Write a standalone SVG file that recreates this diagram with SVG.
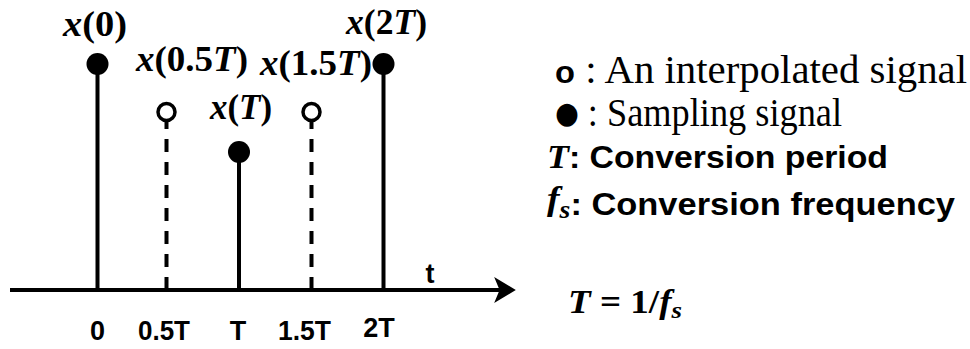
<svg xmlns="http://www.w3.org/2000/svg" width="970" height="349" viewBox="0 0 970 349">
<style>
.stem{stroke:#000;stroke-width:4;fill:none}
.dash{stroke:#000;stroke-width:4;fill:none;stroke-dasharray:13 10}
.dot{fill:#000}
.ring{fill:#fff;stroke:#000;stroke-width:3.5}
.math{font-family:"Liberation Serif",serif;font-weight:bold;font-size:35px;fill:#000}
.it{font-style:italic}
.tick{font-family:"Liberation Sans",Arial,sans-serif;font-weight:bold;font-size:27px;fill:#000}
.mid{text-anchor:middle}
.leg{font-family:"Liberation Serif",serif;font-size:40px;fill:#000}
.legb{font-family:"Liberation Sans",Arial,sans-serif;font-weight:bold;font-size:31px;fill:#000}
</style>
<defs>
<marker id="arrow" markerUnits="userSpaceOnUse" markerWidth="22" markerHeight="26" viewBox="0 0 20 24" refX="10" refY="12" orient="auto">
<path d="M0,0 L20,12 L0,24 L5,12 Z" fill="#000"/>
</marker>
</defs>
<rect width="970" height="349" fill="#fff"/>
<g id="connectors">
<line x1="10" y1="290" x2="505" y2="290" class="stem" marker-end="url(#arrow)"/>
<text x="430" y="283" class="tick mid">t</text>
</g>
<g id="sample-0">
<line x1="97.5" y1="64" x2="97.5" y2="290" class="stem"/>
<circle cx="97.5" cy="64" r="11" class="dot"/>
<text x="63" y="36" class="math" textLength="64" lengthAdjust="spacingAndGlyphs"><tspan class="it">x</tspan>(0)</text>
<text x="97.5" y="340" class="tick mid">0</text>
</g>
<g id="interp-05">
<line x1="166.5" y1="290" x2="166.5" y2="121" class="dash"/>
<circle cx="166.5" cy="112" r="8.5" class="ring"/>
<text x="136" y="71" class="math" textLength="112" lengthAdjust="spacingAndGlyphs"><tspan class="it">x</tspan>(0.5<tspan class="it">T</tspan>)</text>
<text x="138" y="340" class="tick" textLength="52" lengthAdjust="spacingAndGlyphs">0.5T</text>
</g>
<g id="sample-1">
<line x1="239" y1="152" x2="239" y2="290" class="stem"/>
<circle cx="239" cy="152" r="11" class="dot"/>
<text x="210" y="119" class="math" textLength="62" lengthAdjust="spacingAndGlyphs"><tspan class="it">x</tspan>(<tspan class="it">T</tspan>)</text>
<text x="238" y="340" class="tick mid">T</text>
</g>
<g id="interp-15">
<line x1="311.5" y1="290" x2="311.5" y2="121" class="dash"/>
<circle cx="311.5" cy="112" r="8.5" class="ring"/>
<text x="260" y="75" class="math" textLength="112" lengthAdjust="spacingAndGlyphs"><tspan class="it">x</tspan>(1.5<tspan class="it">T</tspan>)</text>
<text x="278" y="340" class="tick" textLength="53" lengthAdjust="spacingAndGlyphs">1.5T</text>
</g>
<g id="sample-2">
<line x1="383.5" y1="64" x2="383.5" y2="290" class="stem"/>
<circle cx="383.5" cy="64" r="11" class="dot"/>
<text x="346" y="34" class="math" textLength="81" lengthAdjust="spacingAndGlyphs"><tspan class="it">x</tspan>(2<tspan class="it">T</tspan>)</text>
<text x="379" y="337" class="tick mid">2T</text>
</g>
<g id="legend">
<text x="555" y="83" class="leg" textLength="412" lengthAdjust="spacingAndGlyphs"><tspan style="font-family:'Liberation Sans',Arial,sans-serif;font-weight:bold;font-size:32px">o</tspan> : An interpolated signal</text>
<text x="555" y="126" class="leg" textLength="287" lengthAdjust="spacingAndGlyphs"><tspan dy="-3" style="font-family:'DejaVu Sans',sans-serif;font-size:30px">●</tspan><tspan dy="3"> : Sampling signal</tspan></text>
<text x="547" y="168" class="legb" textLength="341" lengthAdjust="spacingAndGlyphs"><tspan style="font-family:'Liberation Serif',serif;font-style:italic;font-size:33px">T</tspan>: Conversion period</text>
<text x="547" y="210" class="legb" textLength="408" lengthAdjust="spacingAndGlyphs"><tspan style="font-family:'Liberation Serif',serif;font-style:italic;font-size:34px">f</tspan><tspan dy="8" style="font-family:'Liberation Serif',serif;font-style:italic;font-size:25px">s</tspan><tspan dy="-3">: Conversion frequency</tspan></text>
<text x="568" y="313" class="math" style="font-size:33px" textLength="114" lengthAdjust="spacingAndGlyphs"><tspan class="it">T</tspan> = 1/<tspan class="it">f</tspan><tspan dy="5" class="it" style="font-size:24px">s</tspan></text>
</g>
</svg>
